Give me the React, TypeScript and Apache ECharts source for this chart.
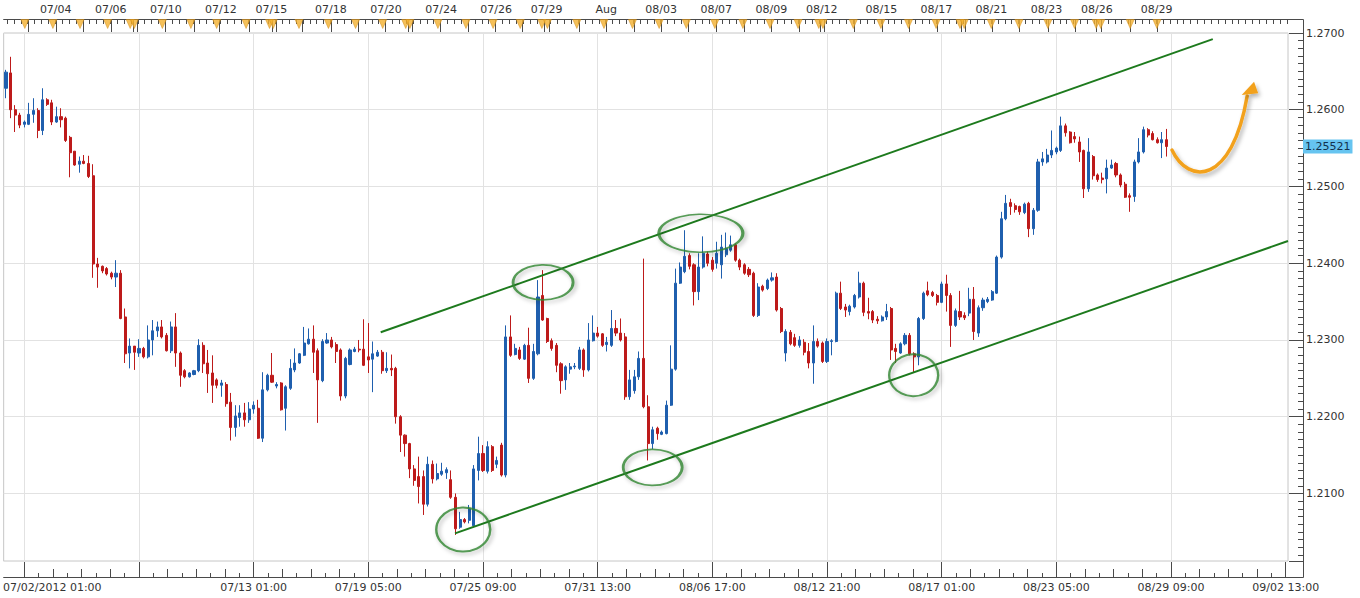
import React, { useEffect, useRef } from 'react';
import * as echarts from 'echarts';

// ---- candle data (4H bars, index 0 = first visible bar) ----
const opens = [
  1.2628, 1.2648, 1.2600, 1.2593, 1.2581, 1.2581, 1.2594, 1.2599, 1.2573, 1.2613,
  1.2609, 1.2584, 1.2591, 1.2589, 1.2564, 1.2546, 1.2529, 1.2533, 1.2530, 1.2514,
  1.2399, 1.2396, 1.2393, 1.2387, 1.2382, 1.2387, 1.2330, 1.2283, 1.2292, 1.2283,
  1.2289, 1.2278, 1.2300, 1.2312, 1.2317, 1.2306, 1.2286, 1.2317, 1.2283, 1.2260,
  1.2252, 1.2255, 1.2260, 1.2293, 1.2270, 1.2257, 1.2248, 1.2241, 1.2242, 1.2219,
  1.2186, 1.2199, 1.2205, 1.2196, 1.2210, 1.2211, 1.2172, 1.2235, 1.2254, 1.2240,
  1.2244, 1.2211, 1.2237, 1.2261, 1.2270, 1.2280, 1.2295, 1.2301, 1.2286, 1.2247,
  1.2296, 1.2300, 1.2294, 1.2287, 1.2227, 1.2268, 1.2285, 1.2288, 1.2288, 1.2278,
  1.2275, 1.2279, 1.2284, 1.2260, 1.2263, 1.2263, 1.2200, 1.2176, 1.2165, 1.2132,
  1.2122, 1.2122, 1.2086, 1.2138, 1.2119, 1.2125, 1.2127, 1.2118, 1.2095, 1.2056,
  1.2066, 1.2065, 1.2058, 1.2130, 1.2152, 1.2129, 1.2161, 1.2138, 1.2163, 1.2124,
  1.2304, 1.2281, 1.2287, 1.2275, 1.2293, 1.2250, 1.2282, 1.2358, 1.2328, 1.2299,
  1.2293, 1.2269, 1.2248, 1.2262, 1.2265, 1.2263, 1.2287, 1.2261, 1.2299, 1.2309,
  1.2308, 1.2294, 1.2293, 1.2315, 1.2309, 1.2304, 1.2226, 1.2234, 1.2252, 1.2276,
  1.2213, 1.2165, 1.2185, 1.2177, 1.2178, 1.2215, 1.2262, 1.2374, 1.2389, 1.2410,
  1.2398, 1.2363, 1.2395, 1.2412, 1.2404, 1.2400, 1.2398, 1.2411, 1.2417, 1.2424,
  1.2404, 1.2398, 1.2392, 1.2387, 1.2332, 1.2370, 1.2367, 1.2378, 1.2382, 1.2341,
  1.2283, 1.2310, 1.2303, 1.2293, 1.2297, 1.2285, 1.2270, 1.2298, 1.2296, 1.2272,
  1.2298, 1.2298, 1.2361, 1.2343, 1.2337, 1.2343, 1.2356, 1.2374, 1.2337, 1.2337,
  1.2327, 1.2325, 1.2330, 1.2341, 1.2289, 1.2283, 1.2295, 1.2306, 1.2282, 1.2278,
  1.2328, 1.2364, 1.2362, 1.2358, 1.2349, 1.2373, 1.2358, 1.2319, 1.2337, 1.2332,
  1.2335, 1.2353, 1.2309, 1.2342, 1.2350, 1.2352, 1.2361, 1.2408, 1.2458, 1.2479,
  1.2475, 1.2474, 1.2466, 1.2478, 1.2445, 1.2469, 1.2532, 1.2532, 1.2541, 1.2545,
  1.2547, 1.2579, 1.2571, 1.2565, 1.2558, 1.2547, 1.2497, 1.2539, 1.2515, 1.2511,
  1.2510, 1.2524, 1.2530, 1.2515, 1.2503, 1.2488, 1.2487, 1.2532, 1.2545, 1.2574,
  1.2569, 1.2561, 1.2557, 1.2561,
];
const closes = [
  1.2649, 1.2600, 1.2593, 1.2580, 1.2584, 1.2594, 1.2599, 1.2573, 1.2613, 1.2607,
  1.2584, 1.2591, 1.2587, 1.2560, 1.2544, 1.2528, 1.2533, 1.2530, 1.2513, 1.2399,
  1.2395, 1.2390, 1.2386, 1.2382, 1.2387, 1.2328, 1.2282, 1.2292, 1.2284, 1.2289,
  1.2278, 1.2300, 1.2312, 1.2317, 1.2304, 1.2286, 1.2317, 1.2283, 1.2254, 1.2252,
  1.2257, 1.2260, 1.2293, 1.2269, 1.2256, 1.2241, 1.2241, 1.2244, 1.2217, 1.2186,
  1.2201, 1.2205, 1.2196, 1.2210, 1.2215, 1.2172, 1.2235, 1.2254, 1.2245, 1.2242,
  1.2209, 1.2239, 1.2263, 1.2270, 1.2282, 1.2296, 1.2301, 1.2284, 1.2248, 1.2298,
  1.2300, 1.2291, 1.2285, 1.2227, 1.2276, 1.2287, 1.2288, 1.2287, 1.2267, 1.2274,
  1.2282, 1.2284, 1.2260, 1.2263, 1.2261, 1.2200, 1.2176, 1.2165, 1.2132, 1.2117,
  1.2109, 1.2086, 1.2138, 1.2119, 1.2126, 1.2129, 1.2131, 1.2095, 1.2054, 1.2066,
  1.2063, 1.2080, 1.2132, 1.2152, 1.2130, 1.2161, 1.2130, 1.2143, 1.2124, 1.2304,
  1.2280, 1.2289, 1.2276, 1.2293, 1.2250, 1.2285, 1.2356, 1.2326, 1.2298, 1.2289,
  1.2267, 1.2247, 1.2265, 1.2265, 1.2266, 1.2287, 1.2261, 1.2300, 1.2309, 1.2305,
  1.2293, 1.2297, 1.2315, 1.2309, 1.2300, 1.2226, 1.2248, 1.2252, 1.2276, 1.2213,
  1.2165, 1.2183, 1.2178, 1.2180, 1.2215, 1.2262, 1.2374, 1.2395, 1.2409, 1.2396,
  1.2363, 1.2395, 1.2413, 1.2400, 1.2392, 1.2413, 1.2421, 1.2419, 1.2424, 1.2404,
  1.2395, 1.2387, 1.2385, 1.2332, 1.2369, 1.2365, 1.2378, 1.2381, 1.2339, 1.2311,
  1.2311, 1.2295, 1.2293, 1.2300, 1.2284, 1.2270, 1.2298, 1.2292, 1.2272, 1.2298,
  1.2299, 1.2361, 1.2341, 1.2339, 1.2344, 1.2358, 1.2374, 1.2336, 1.2335, 1.2326,
  1.2325, 1.2330, 1.2337, 1.2287, 1.2285, 1.2295, 1.2306, 1.2282, 1.2278, 1.2328,
  1.2361, 1.2359, 1.2358, 1.2349, 1.2373, 1.2358, 1.2319, 1.2338, 1.2330, 1.2329,
  1.2353, 1.2311, 1.2342, 1.2352, 1.2353, 1.2363, 1.2408, 1.2458, 1.2478, 1.2474,
  1.2470, 1.2467, 1.2477, 1.2445, 1.2469, 1.2532, 1.2536, 1.2541, 1.2547, 1.2550,
  1.2579, 1.2570, 1.2557, 1.2562, 1.2545, 1.2497, 1.2545, 1.2514, 1.2509, 1.2509,
  1.2524, 1.2528, 1.2515, 1.2502, 1.2486, 1.2486, 1.2532, 1.2545, 1.2574, 1.2567,
  1.2561, 1.2557, 1.2561, 1.25521,
];
const lows = [
  1.2615, 1.2589, 1.2571, 1.2576, 1.2577, 1.2580, 1.2583, 1.2563, 1.2567, 1.2605,
  1.2580, 1.2583, 1.2577, 1.2558, 1.2512, 1.2527, 1.2518, 1.2529, 1.2511, 1.2381,
  1.2368, 1.2387, 1.2384, 1.2379, 1.2369, 1.2327, 1.2270, 1.2263, 1.2261, 1.2278,
  1.2276, 1.2276, 1.2280, 1.2304, 1.2302, 1.2285, 1.2283, 1.2265, 1.2239, 1.2250,
  1.2251, 1.2254, 1.2258, 1.2257, 1.2231, 1.2218, 1.2237, 1.2226, 1.2213, 1.2169,
  1.2174, 1.2187, 1.2187, 1.2192, 1.2204, 1.2171, 1.2167, 1.2233, 1.2244, 1.2237,
  1.2208, 1.2182, 1.2235, 1.2258, 1.2269, 1.2279, 1.2294, 1.2257, 1.2192, 1.2245,
  1.2295, 1.2289, 1.2270, 1.2221, 1.2224, 1.2267, 1.2284, 1.2284, 1.2266, 1.2257,
  1.2232, 1.2278, 1.2256, 1.2257, 1.2253, 1.2191, 1.2154, 1.2148, 1.2120, 1.2110,
  1.2087, 1.2072, 1.2083, 1.2113, 1.2117, 1.2123, 1.2119, 1.2093, 1.2046, 1.2054,
  1.2061, 1.2061, 1.2056, 1.2117, 1.2128, 1.2126, 1.2128, 1.2133, 1.2122, 1.2121,
  1.2278, 1.2280, 1.2274, 1.2274, 1.2244, 1.2248, 1.2280, 1.2325, 1.2296, 1.2286,
  1.2258, 1.2230, 1.2235, 1.2256, 1.2262, 1.2261, 1.2252, 1.2259, 1.2298, 1.2303,
  1.2291, 1.2285, 1.2291, 1.2305, 1.2298, 1.2222, 1.2222, 1.2230, 1.2248, 1.2211,
  1.2143, 1.2158, 1.2170, 1.2176, 1.2177, 1.2214, 1.2260, 1.2373, 1.2387, 1.2392,
  1.2345, 1.2352, 1.2393, 1.2396, 1.2389, 1.2393, 1.2380, 1.2408, 1.2415, 1.2402,
  1.2391, 1.2385, 1.2382, 1.2330, 1.2330, 1.2363, 1.2365, 1.2376, 1.2337, 1.2309,
  1.2272, 1.2293, 1.2291, 1.2290, 1.2280, 1.2263, 1.2243, 1.2290, 1.2270, 1.2270,
  1.2280, 1.2297, 1.2339, 1.2330, 1.2332, 1.2341, 1.2354, 1.2331, 1.2327, 1.2322,
  1.2321, 1.2324, 1.2326, 1.2274, 1.2270, 1.2282, 1.2293, 1.2280, 1.2258, 1.2267,
  1.2326, 1.2357, 1.2356, 1.2345, 1.2348, 1.2337, 1.2291, 1.2317, 1.2326, 1.2326,
  1.2331, 1.2300, 1.2304, 1.2338, 1.2348, 1.2351, 1.2360, 1.2406, 1.2456, 1.2463,
  1.2466, 1.2463, 1.2464, 1.2434, 1.2437, 1.2467, 1.2527, 1.2530, 1.2537, 1.2542,
  1.2545, 1.2565, 1.2556, 1.2557, 1.2532, 1.2485, 1.2493, 1.2509, 1.2506, 1.2504,
  1.2491, 1.2523, 1.2512, 1.2499, 1.2485, 1.2467, 1.2480, 1.2530, 1.2543, 1.2564,
  1.2560, 1.2556, 1.2537, 1.2539,
];
const highs = [
  1.2652, 1.2669, 1.2606, 1.2596, 1.2586, 1.2609, 1.2615, 1.2602, 1.2628, 1.2615,
  1.2613, 1.2604, 1.2602, 1.2591, 1.2566, 1.2546, 1.2539, 1.2541, 1.2540, 1.2529,
  1.2407, 1.2397, 1.2395, 1.2389, 1.2404, 1.2391, 1.2341, 1.2302, 1.2292, 1.2301,
  1.2291, 1.2319, 1.2326, 1.2324, 1.2326, 1.2309, 1.2324, 1.2335, 1.2285, 1.2262,
  1.2258, 1.2261, 1.2301, 1.2297, 1.2287, 1.2280, 1.2250, 1.2248, 1.2245, 1.2231,
  1.2215, 1.2215, 1.2218, 1.2219, 1.2220, 1.2222, 1.2258, 1.2256, 1.2283, 1.2245,
  1.2245, 1.2241, 1.2275, 1.2289, 1.2283, 1.2317, 1.2315, 1.2319, 1.2289, 1.2301,
  1.2309, 1.2304, 1.2297, 1.2289, 1.2278, 1.2289, 1.2291, 1.2300, 1.2327, 1.2322,
  1.2298, 1.2287, 1.2287, 1.2284, 1.2281, 1.2265, 1.2202, 1.2177, 1.2166, 1.2137,
  1.2148, 1.2130, 1.2148, 1.2143, 1.2139, 1.2140, 1.2134, 1.2130, 1.2100, 1.2076,
  1.2068, 1.2085, 1.2137, 1.2174, 1.2163, 1.2168, 1.2163, 1.2148, 1.2166, 1.2319,
  1.2332, 1.2295, 1.2291, 1.2295, 1.2316, 1.2295, 1.2378, 1.2391, 1.2329, 1.2302,
  1.2296, 1.2271, 1.2267, 1.2270, 1.2270, 1.2291, 1.2289, 1.2322, 1.2332, 1.2317,
  1.2309, 1.2304, 1.2339, 1.2326, 1.2328, 1.2309, 1.2261, 1.2261, 1.2285, 1.2406,
  1.2228, 1.2187, 1.2187, 1.2182, 1.2221, 1.2293, 1.2393, 1.2401, 1.2443, 1.2413,
  1.2400, 1.2413, 1.2435, 1.2415, 1.2408, 1.2428, 1.2437, 1.2440, 1.2436, 1.2426,
  1.2406, 1.2400, 1.2395, 1.2389, 1.2374, 1.2372, 1.2380, 1.2388, 1.2387, 1.2343,
  1.2314, 1.2313, 1.2308, 1.2305, 1.2301, 1.2296, 1.2319, 1.2302, 1.2298, 1.2302,
  1.2301, 1.2363, 1.2376, 1.2347, 1.2346, 1.2360, 1.2389, 1.2376, 1.2355, 1.2339,
  1.2331, 1.2332, 1.2347, 1.2343, 1.2295, 1.2297, 1.2309, 1.2309, 1.2284, 1.2330,
  1.2363, 1.2376, 1.2364, 1.2360, 1.2376, 1.2385, 1.2361, 1.2341, 1.2364, 1.2336,
  1.2368, 1.2369, 1.2345, 1.2355, 1.2356, 1.2365, 1.2410, 1.2467, 1.2489, 1.2484,
  1.2478, 1.2475, 1.2479, 1.2480, 1.2472, 1.2536, 1.2545, 1.2549, 1.2573, 1.2552,
  1.2591, 1.2582, 1.2572, 1.2571, 1.2565, 1.2548, 1.2563, 1.2541, 1.2517, 1.2518,
  1.2535, 1.2535, 1.2532, 1.2517, 1.2506, 1.2491, 1.2535, 1.2563, 1.2578, 1.2576,
  1.2572, 1.2564, 1.2571, 1.2575,
];

// total bar slots on the time axis (data + empty future area up to 09/02 13:00)
const BAR_SLOTS = 280;
const categories = Array.from({ length: BAR_SLOTS }, (_, i) => String(i));

// bottom time axis: major ticks (bar index) and labels
const bottomTickBars = [4, 29, 54, 79, 104, 129, 154, 179, 204, 229, 254, 279];
const bottomLabels: [number, string][] = [
  [4, '07/02/2012 01:00'], [54, '07/13 01:00'], [79, '07/19 05:00'], [104, '07/25 09:00'],
  [129, '07/31 13:00'], [154, '08/06 17:00'], [179, '08/12 21:00'], [204, '08/17 01:00'],
  [229, '08/23 05:00'], [254, '08/29 09:00'], [279, '09/02 13:00'],
];
// top date strip: day labels (bar index of day start)
const topLabels: [number, string][] = [
  [11, '07/04'], [23, '07/06'], [35, '07/10'], [47, '07/12'], [58, '07/15'], [71, '07/18'],
  [83, '07/20'], [95, '07/24'], [107, '07/26'], [118, '07/29'], [131, 'Aug'], [143, '08/03'],
  [155, '08/07'], [167, '08/09'], [178, '08/12'], [191, '08/15'], [203, '08/17'], [215, '08/21'],
  [227, '08/23'], [238, '08/26'], [251, '08/29'],
];
// economic event markers on the top strip (bar time)
const eventBars = [
  5.4, 11.5, 17.4, 23.4, 28.3, 29.2, 35.3, 41.5, 47.1, 53.5, 58.6, 59.4, 65.0, 71.4, 77.3,
  83.2, 88.2, 89.1, 95.2, 101.3, 107.2, 113.1, 117.8, 119.0, 125.4, 131.3, 137.5, 143.3,
  149.2, 155.4, 161.5, 167.4, 173.5, 178.0, 178.9, 185.5, 191.5, 197.5, 203.5, 208.7, 209.6,
  215.5, 221.5, 227.8, 233.6, 238.3, 239.3, 245.7, 251.5,
];
const lastPrice = 1.25521;

// annotations in (bar time, price)
const upperChannel = [[82.2, 1.2310], [263.6, 1.2692]];
const lowerChannel = [[98.4, 1.2048], [280, 1.2429]];
const ellipseCenters = [[100.2, 1.2053], [117.6, 1.2375], [141.5, 1.2134], [152.0, 1.2439], [198.4, 1.2254]];
const arrowCurve = [[254.7, 1.25475], [258.3, 1.25018], [267.8, 1.25018], [271.1, 1.26179]];
const arrowHead = [[272.6, 1.26365], [269.9, 1.26192], [273.5, 1.26214]];

// styling
const ellipseSizes = [[54, 44], [60, 35], [59, 36], [84, 38], [49, 42]];
const FONT = 'DejaVu Sans';
const TXT = '#333333';
const AX = '#4a4a4a';
const UP = '#1f5fae';
const DOWN = '#bd1a1a';

export default function App() {
  const ref = useRef<HTMLDivElement>(null);
  useEffect(() => {
    if (!ref.current) return;
    const chart = echarts.init(ref.current, undefined, { renderer: 'svg' });

    const majorV = bottomTickBars.map((i) => i + 0.5);
    const midV: number[] = [];
    const smallV: number[] = [];
    majorV.slice(0, -1).forEach((m) => {
      for (let j = 1; j < 8; j++) (j % 2 === 0 ? midV : smallV).push(m + (j * 25) / 8);
    });
    const topMinorV: number[] = [];
    for (let v = 0.75; v < BAR_SLOTS; v += 1.5) topMinorV.push(v);
    const gridV = majorV.slice(0, -1);
    const bottomLabelV = bottomLabels.map((b) => b[0] + 0.5);
    const topLabelV = topLabels.map((t) => t[0] + 0.35);

    const findLabel = (list: [number, string][], off: number, val: number) => {
      const hit = list.find(([i]) => Math.abs(i + off - val) < 0.01);
      return hit ? hit[1] : '';
    };

    const candleData = opens.map((o, i) => [o, closes[i], lows[i], highs[i]]);

    const tickOnlyAxis = (customValues: number[], length: number, position: string, offset: number) => ({
      type: 'value', gridIndex: 0, min: 0, max: BAR_SLOTS, position, offset,
      axisLine: { show: false, onZero: false },
      axisTick: { show: true, inside: true, length, customValues, lineStyle: { color: AX } },
      axisLabel: { show: false },
      splitLine: { show: false },
    });

    chart.setOption({
      animation: false,
      backgroundColor: '#ffffff',
      grid: [
        { left: -1, right: 72, top: 33, bottom: 37, show: true, borderColor: '#c6c6c6', borderWidth: 1, backgroundColor: '#ffffff' },
        { left: -1, right: 72, top: 19, height: 10, show: false },
      ],
      xAxis: [
        { type: 'category', data: categories, gridIndex: 0, show: false, boundaryGap: true, axisLine: { onZero: false } },
        {
          type: 'value', gridIndex: 0, min: 0, max: BAR_SLOTS, position: 'bottom', offset: 16,
          axisLine: { show: true, onZero: false, lineStyle: { color: AX } },
          axisTick: { show: true, inside: true, length: 15, customValues: majorV, lineStyle: { color: AX } },
          axisLabel: {
            show: true, customValues: bottomLabelV, margin: 5,
            fontFamily: FONT, fontSize: 11, color: TXT,
            formatter: (v: number) => {
              const t = findLabel(bottomLabels, 0.5, v);
              return Math.abs(v - bottomLabelV[0]) < 0.01 ? `{first|${t}}` : t;
            },
            rich: { first: { fontFamily: FONT, fontSize: 11, color: TXT, padding: [0, 0, 0, 56] } },
          },
          splitLine: { show: false },
        },
        tickOnlyAxis(midV, 8, 'bottom', 16),
        tickOnlyAxis(smallV, 4, 'bottom', 16),
        {
          type: 'value', gridIndex: 0, min: 0, max: BAR_SLOTS, position: 'top', offset: 14,
          axisLine: { show: true, onZero: false, lineStyle: { color: AX } },
          axisTick: { show: true, inside: true, length: 5, customValues: topMinorV, lineStyle: { color: AX } },
          axisLabel: {
            show: true, customValues: topLabelV, margin: 4,
            fontFamily: FONT, fontSize: 11, color: TXT,
            formatter: (v: number) => findLabel(topLabels, 0.35, v),
          },
          splitLine: { show: false },
        },
        tickOnlyAxis(eventBars, 13, 'top', 14),
        { type: 'value', gridIndex: 1, min: 0, max: BAR_SLOTS, show: false, axisLine: { onZero: false } },
      ],
      yAxis: [
        {
          type: 'value', gridIndex: 0, position: 'right', offset: 15,
          min: 1.2012, max: 1.27, splitNumber: 7, scale: true,
          axisLine: { show: true, onZero: false, lineStyle: { color: AX } },
          axisTick: { show: true, inside: true, length: 14, lineStyle: { color: AX } },
          minorTick: { show: true, splitNumber: 10, length: 5, lineStyle: { color: AX } },
          axisLabel: {
            margin: 3, fontFamily: FONT, fontSize: 11, color: TXT,
            formatter: (v: number) => (Math.abs(v * 100 - Math.round(v * 100)) < 1e-6 ? v.toFixed(4) : ''),
          },
          splitLine: { show: true, lineStyle: { color: '#e2e2e2' } },
          minorSplitLine: { show: false },
        },
        { type: 'value', gridIndex: 1, min: 0, max: 1, show: false, axisLine: { onZero: false } },
      ],
      series: [
        {
          type: 'line', xAxisIndex: 1, yAxisIndex: 0, data: [], silent: true,
          markLine: {
            silent: true, z: 1, symbol: ['none', 'none'], animation: false,
            label: { show: false },
            lineStyle: { color: '#e2e2e2', type: 'solid', width: 1 },
            data: gridV.map((v) => ({ xAxis: v })),
          },
        },
        {
          type: 'candlestick', xAxisIndex: 0, yAxisIndex: 0, data: candleData, barWidth: 2.6, silent: true,
          itemStyle: { color: UP, color0: DOWN, borderColor: UP, borderColor0: DOWN, borderWidth: 1 },
          markLine: {
            silent: true, z: 6, symbol: ['none', 'none'], animation: false, precision: 5,
            lineStyle: { color: 'rgba(0,0,0,0)', width: 1 },
            label: {
              show: true, position: 'end', distance: 15, formatter: lastPrice.toFixed(5),
              color: '#12314d', backgroundColor: '#66c4f0', padding: [2, 2, 1, 2],
              fontFamily: FONT, fontSize: 11,
            },
            data: [{ yAxis: lastPrice }],
          },
        },
        {
          type: 'line', xAxisIndex: 1, yAxisIndex: 0, data: upperChannel, symbol: 'none', silent: true, z: 3,
          lineStyle: { color: '#1d7a1d', width: 2 },
        },
        {
          type: 'line', xAxisIndex: 1, yAxisIndex: 0, data: lowerChannel, symbol: 'none', silent: true, z: 3,
          lineStyle: { color: '#1d7a1d', width: 2 },
        },
        {
          type: 'scatter', xAxisIndex: 1, yAxisIndex: 0, silent: true, z: 4, symbol: 'circle',
          data: ellipseCenters.map((c, k) => ({ value: c, symbolSize: ellipseSizes[k] })),
          itemStyle: {
            color: 'rgba(0,0,0,0)', borderColor: '#2e852e', borderWidth: 2.2,
            shadowBlur: 4, shadowColor: 'rgba(0,0,0,0.35)', shadowOffsetX: 2, shadowOffsetY: 2,
          },
        },
        {
          type: 'scatter', xAxisIndex: 6, yAxisIndex: 1, silent: true, z: 5,
          symbol: 'triangle', symbolRotate: 180, symbolSize: [8, 9],
          data: eventBars.map((v) => [v, 0.5]),
          itemStyle: { color: '#f2b030', borderColor: '#d38b12', borderWidth: 0.6 },
        },
      ],
    });

    const px = (p: number[]) => chart.convertToPixel({ xAxisIndex: 1, yAxisIndex: 0 } as any, p) as number[];
    const [s, c1, c2, e] = arrowCurve.map(px);
    const head = arrowHead.map(px);
    const shadow = { shadowBlur: 4, shadowColor: 'rgba(0,0,0,0.3)', shadowOffsetX: 2, shadowOffsetY: 3 };
    const frame = { stroke: AX, lineWidth: 1 };
    chart.setOption({
      graphic: [
        {
          type: 'bezierCurve', z: 10, silent: true,
          shape: { x1: s[0], y1: s[1], cpx1: c1[0], cpy1: c1[1], cpx2: c2[0], cpy2: c2[1], x2: e[0], y2: e[1] },
          style: { stroke: '#f2a11c', lineWidth: 3.5, fill: null, lineCap: 'round', ...shadow },
        },
        { type: 'polygon', z: 10, silent: true, shape: { points: head }, style: { fill: '#f2a11c', ...shadow } },
        { type: 'line', z: 10, silent: true, shape: { x1: 1288, y1: 19.5, x2: 1303.5, y2: 19.5 }, style: frame },
        { type: 'line', z: 10, silent: true, shape: { x1: 1288, y1: 577.5, x2: 1303.5, y2: 577.5 }, style: frame },
        { type: 'line', z: 10, silent: true, shape: { x1: 1303.5, y1: 19.5, x2: 1303.5, y2: 33 }, style: frame },
        { type: 'line', z: 10, silent: true, shape: { x1: 1303.5, y1: 561, x2: 1303.5, y2: 577.5 }, style: frame },
      ],
    });

    return () => chart.dispose();
  }, []);

  return (
    <div
      ref={ref}
      style={{ position: 'fixed', left: 0, top: 0, width: 1360, height: 598, background: '#ffffff' }}
    />
  );
}
